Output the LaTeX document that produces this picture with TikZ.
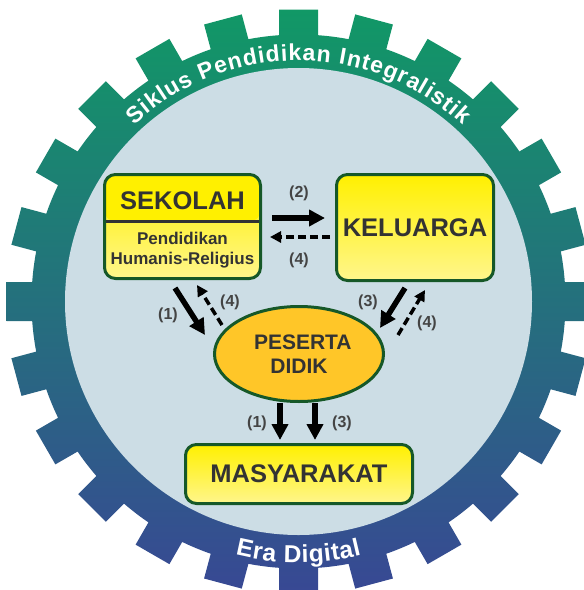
\documentclass[tikz,border=0pt]{standalone}
\usepackage{fontspec}
\setmainfont{Liberation Sans}
\usetikzlibrary{arrows.meta,shapes.geometric,decorations.text}
\definecolor{gtop}{RGB}{17,152,102}
\definecolor{gmid}{RGB}{30,122,118}
\definecolor{gbot}{RGB}{56,72,148}
\definecolor{innerbg}{RGB}{204,221,229}
\definecolor{bord}{RGB}{22,88,40}
\definecolor{ybright}{RGB}{255,240,0}
\definecolor{ylight}{RGB}{255,246,140}
\definecolor{ell}{RGB}{255,198,40}
\definecolor{txt}{RGB}{51,51,51}
\definecolor{lbl}{RGB}{68,68,68}
\begin{document}
\begin{tikzpicture}[x=1pt,y=1pt,
  box/.style={draw=bord, line width=3pt, rounded corners=11pt, top color=ybright, bottom color=ylight, inner sep=0pt, text=txt, font=\bfseries\fontsize{25.5}{25.5}\selectfont},
  oval/.style={ellipse, draw=bord, line width=3pt, fill=ell, inner sep=0pt, text=txt, align=center, font=\bfseries\fontsize{21}{24.5}\selectfont},
  lab/.style={text=lbl, font=\bfseries\fontsize{16}{16}\selectfont},
  solidarr/.style={black, line width=5.5pt, -{Triangle[length=16pt,width=16pt]}},
  dasharr/.style={black, line width=3.5pt, dash pattern=on 8pt off 4pt, -{Triangle[length=11pt,width=11pt]}}
]
\useasboundingbox (0,0) rectangle (584,-590);
\begin{scope}[shift={(298.5,-301.5)}]
  \shade[top color=gtop, middle color=gmid, bottom color=gbot] (0,0) circle (267pt)
    \foreach \a in {0,15,...,345}{ ([rotate=\a]-19.5,255) -- ([rotate=\a]19.5,255) -- ([rotate=\a]19.5,292) -- ([rotate=\a]-19.5,292) -- cycle };
  \fill[innerbg] (0,0) circle (233.5pt);
  \path[decorate, decoration={text along path, text color=white, text align={fit to path},
      text={|\bfseries\fontsize{23}{23}\selectfont|Siklus Pendidikan Integralistik}}]
      (133:241) arc[start angle=133, end angle=47, radius=241pt];
  \path[decorate, decoration={text along path, text color=white, text align={fit to path},
      text={|\bfseries\fontsize{24.5}{24.5}\selectfont|Era Digital}}]
      (256:261) arc[start angle=256, end angle=284, radius=261pt];
\end{scope}

\node[box, minimum width=156pt, minimum height=104pt,
  path picture={\fill[ybright] (path picture bounding box.north west) rectangle ([yshift=-47pt]path picture bounding box.north east);
    \draw[txt, line width=2.5pt] ([yshift=-47pt]path picture bounding box.north west) -- ([yshift=-47pt]path picture bounding box.north east);}]
  (sekolah) at (182.5,-226.5) {};
\node[text=txt, font=\bfseries\fontsize{25.5}{25.5}\selectfont] (sekolahT) at (182.5,-201) {SEKOLAH};
\node[text=txt, align=center, font=\bfseries\fontsize{17}{19.5}\selectfont] (sekolahS) at (182.5,-250) {Pendidikan\\Humanis-Religius};

\node[box, minimum width=157pt, minimum height=106pt] (keluarga) at (415,-227.5) {KELUARGA};
\node[oval, minimum width=169pt, minimum height=95pt] (peserta) at (299,-354) {\raisebox{-2pt}{\parbox{90pt}{\centering PESERTA\\DIDIK}}};
\node[box, minimum width=227pt, minimum height=59pt] (masy) at (299,-474) {MASYARAKAT};

\draw[solidarr] ([xshift=10pt,yshift=8.5pt]sekolah.east) -- ([xshift=-10pt,yshift=9.5pt]keluarga.west);
\draw[dasharr] ([xshift=-5pt,yshift=-9.5pt]keluarga.west) -- ([xshift=8pt,yshift=-10.5pt]sekolah.east);
\draw[solidarr] ([xshift=-7.5pt,yshift=-8pt]sekolah.south) -- ([xshift=-94pt,yshift=19pt]peserta.center);
\draw[dasharr] ([xshift=-77pt,yshift=29pt]peserta.center) -- ([xshift=14.5pt,yshift=-5pt]sekolah.south);
\draw[solidarr] ([xshift=-10pt,yshift=-6pt]keluarga.south) -- ([xshift=81pt,yshift=26pt]peserta.center);
\draw[dasharr] ([xshift=99pt,yshift=19pt]peserta.center) -- ([xshift=10pt,yshift=-8pt]keluarga.south);
\draw[solidarr] ([xshift=-19pt]peserta.south) -- ([xshift=-19pt,yshift=3pt]masy.north);
\draw[solidarr] ([xshift=16pt]peserta.south) -- ([xshift=16pt,yshift=3pt]masy.north);

\node[lab] (l2) at (299,-193) {(2)};
\node[lab] (l4a) at (299,-260) {(4)};
\node[lab] (l1a) at (168,-315) {(1)};
\node[lab] (l4b) at (230,-302) {(4)};
\node[lab] (l3a) at (368,-302) {(3)};
\node[lab] (l4c) at (427,-323) {(4)};
\node[lab] (l1b) at (257,-423) {(1)};
\node[lab] (l3b) at (342,-423) {(3)};
\end{tikzpicture}
\end{document}
